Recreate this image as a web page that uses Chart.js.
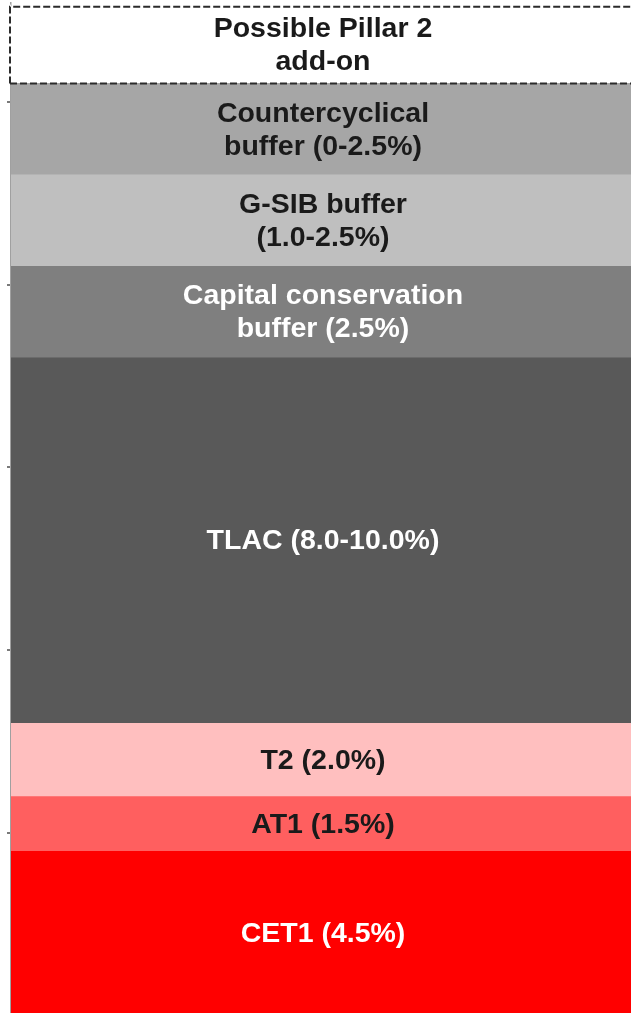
<!DOCTYPE html>
<html>
<head>
<meta charset="utf-8">
<script src="https://cdn.jsdelivr.net/npm/chart.js@4/dist/chart.umd.min.js"></script>
<style>
  html, body { margin: 0; padding: 0; background: #fff; overflow: hidden; width: 631px; height: 1013px; }
  #wrap { position: absolute; left: 0; top: 0; width: 650px; height: 1020px; }
</style>
</head>
<body>
<div id="wrap"><canvas id="c" width="650" height="1020"></canvas></div>
<script>
// ---- data ----
const categories = ['Capital requirements'];
const segmentNames = [
  'CET1 (4.5%)',
  'AT1 (1.5%)',
  'T2 (2.0%)',
  'TLAC (8.0-10.0%)',
  'Capital conservation\nbuffer (2.5%)',
  'G-SIB buffer\n(1.0-2.5%)',
  'Countercyclical\nbuffer (0-2.5%)',
  'Possible Pillar 2\nadd-on'
];
const segmentValues = [4.5, 1.5, 2.0, 10.0, 2.5, 2.5, 2.5, 2.1];
const yTickValues = [0, 5, 10, 15, 20, 25];

// ---- styles ----
const segmentColors = ['#FF0000', '#FF5F5F', '#FFBFBF', '#595959', '#7F7F7F', '#BFBFBF', '#A6A6A6', '#FFFFFF'];
const labelColors = ['#FFFFFF', '#1A1A1A', '#1A1A1A', '#FFFFFF', '#FFFFFF', '#1A1A1A', '#1A1A1A', '#1A1A1A'];
const dashedIndex = 7;

const datasets = segmentNames.map((name, i) => ({
  label: name,
  data: [segmentValues[i]],
  backgroundColor: segmentColors[i],
  borderWidth: 0,
  categoryPercentage: 1.0,
  barPercentage: 1.0,
  stack: 's'
}));

const overlayPlugin = {
  id: 'overlay',
  afterDatasetsDraw(chart) {
    const ctx = chart.ctx;
    // dashed outline for the Pillar 2 box
    const dm = chart.getDatasetMeta(dashedIndex);
    const del = dm.data[0];
    if (del) {
      const p = del.getProps(['x', 'y', 'base', 'width'], true);
      const l = p.x - p.width / 2, r = p.x + p.width / 2;
      ctx.save();
      ctx.fillStyle = '#ffffff';
      ctx.fillRect(l - 3, p.y - 2, 3, p.base - p.y + 2);
      ctx.strokeStyle = '#2b2b2b';
      ctx.lineWidth = 2;
      ctx.setLineDash([7, 3]);
      ctx.beginPath();
      ctx.moveTo(l - 1, p.base);
      ctx.lineTo(l - 1, p.y);
      ctx.lineTo(r + 2, p.y);
      ctx.moveTo(l - 1, p.base);
      ctx.lineTo(r + 2, p.base);
      ctx.stroke();
      ctx.restore();
    }
    // segment labels
    ctx.save();
    ctx.font = 'bold 28.5px "Liberation Sans", Arial, sans-serif';
    ctx.textAlign = 'center';
    ctx.textBaseline = 'middle';
    const lineH = 33;
    chart.data.datasets.forEach((ds, i) => {
      const el = chart.getDatasetMeta(i).data[0];
      if (!el) return;
      const p = el.getProps(['x', 'y', 'base'], true);
      const cy = (p.y + p.base) / 2;
      const lines = ds.label.split('\n');
      ctx.fillStyle = labelColors[i];
      lines.forEach((t, k) => {
        const off = (k - (lines.length - 1) / 2) * lineH;
        ctx.fillText(t, p.x, cy + off + 1);
      });
    });
    ctx.restore();
  }
};

new Chart(document.getElementById('c'), {
  type: 'bar',
  data: { labels: categories, datasets },
  options: {
    responsive: false,
    animation: false,
    devicePixelRatio: 1,
    layout: { padding: { left: 7, right: 15, top: 3, bottom: 4 } },
    plugins: { legend: { display: false }, tooltip: { enabled: false } },
    scales: {
      x: { display: false, stacked: true },
      y: {
        stacked: true,
        min: 0,
        max: 27.7,
        afterBuildTicks(scale) { scale.ticks = yTickValues.map(v => ({ value: v })); },
        ticks: { display: false },
        grid: { drawOnChartArea: false, drawTicks: true, tickLength: 4, color: '#7a7a7a', lineWidth: 2 },
        border: { display: true, color: '#a0a0a0', width: 1.5 }
      }
    }
  },
  plugins: [overlayPlugin]
});
</script>
</body>
</html>
